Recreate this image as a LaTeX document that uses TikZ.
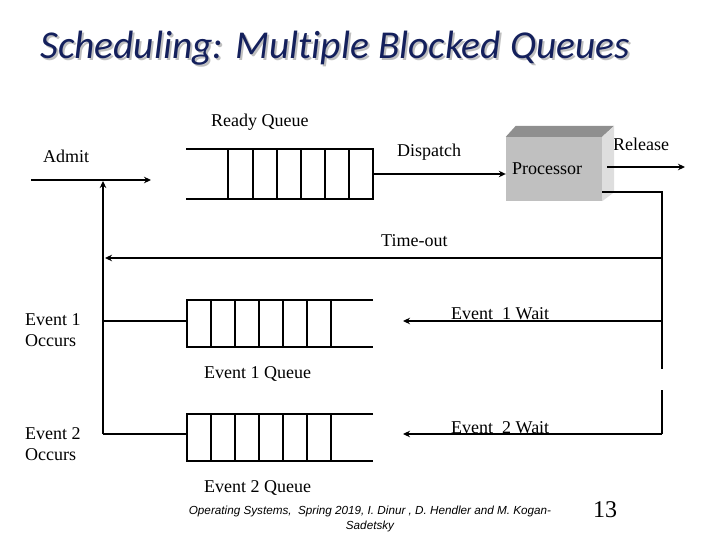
\documentclass[tikz,border=0pt]{standalone}
\usepackage{fontspec}
\setmainfont{Liberation Serif}
\newfontfamily\titlefont[Ligatures={NoCommon}]{Carlito}
\newfontfamily\footfont{Liberation Sans}
\usetikzlibrary{arrows.meta,calc}
\definecolor{navy}{RGB}{20,32,92}
\definecolor{frontgray}{RGB}{192,192,192}
\definecolor{topgray}{RGB}{143,143,143}
\definecolor{sidegray}{RGB}{222,222,222}
\begin{document}
\begin{tikzpicture}[x=1pt,y=-1pt,
  ln/.style={line width=2.2pt},
  arr/.style={line width=2.2pt,-{Stealth[length=7pt,width=6.5pt]}},
  lbl/.style={anchor=base west,inner sep=0pt,font=\fontsize{18}{21}\selectfont},
  ttl/.style={anchor=base west,inner sep=0pt,font=\titlefont\itshape\fontsize{39.5}{44}\selectfont}]
\useasboundingbox (0,0) rectangle (720,540);
% title
\node[ttl,text=black!25] (titleshadow) at (42,61) {Scheduling: Multiple Blocked Queues};
\node[ttl,text=navy] (title) at (40,59) {Scheduling: Multiple Blocked Queues};
% labels
\node[lbl] (readyq) at (211,127) {Ready Queue};
\node[lbl] (admit) at (43,163) {Admit};
\node[lbl] (dispatch) at (397,157) {Dispatch};
\node[lbl] (release) at (613,151) {Release};
\node[lbl] (timeout) at (381,247) {Time-out};
\node[lbl] (e1wait) at (451,319) {Event\ \ 1 Wait};
\node[lbl] (e2wait) at (451,433) {Event\ \ 2 Wait};
\node[lbl,align=left] (e1occ) at (25,346) {Event 1\\[0pt]Occurs};
\node[lbl,align=left] (e2occ) at (25,460) {Event 2\\[0pt]Occurs};
\node[lbl] (e1q) at (204,378) {Event 1 Queue};
\node[lbl] (e2q) at (204,492) {Event 2 Queue};
% processor
\node[fill=frontgray,minimum width=96pt,minimum height=64pt,inner sep=0pt] (proc) at (554,169) {};
\fill[topgray] (proc.north west) -- ($(proc.north west)+(10,-11)$) -- ($(proc.north east)+(12,-11)$) -- (proc.north east) -- cycle;
\fill[sidegray] (proc.north east) -- ($(proc.north east)+(12,-11)$) -- ($(proc.south east)+(12,-9)$) -- (proc.south east) -- cycle;
\node[lbl] (proclbl) at (512,175) {Processor};
% ready queue
\draw[ln] (186,149) -- (373,149) -- (373,199) -- (186,199);
\foreach \x in {228,253,277,301,325,349} \draw[ln] (\x,149) -- (\x,199);
% event queues
\foreach \y/\h in {300/347,414/461}{
  \draw[ln] (373,\y) -- (187,\y) -- (187,\h) -- (373,\h);
  \foreach \x in {211,235,259,283,307,331} \draw[ln] (\x,\y) -- (\x,\h);
}
% coordinates
\coordinate (admitstart) at (31,180);
\coordinate (admitend) at (151,180);
\coordinate (leftbot) at (103,434);
\coordinate (lefttop) at (103,181);
\coordinate (rqout) at (373,174);
\coordinate (relstart) at (607,167);
\coordinate (relend) at (685,167);
\coordinate (procout) at (602,192);
\coordinate (rc1) at (662,192);
\coordinate (rcgap1) at (662,369);
\coordinate (rcgap2) at (662,390);
\coordinate (rc2) at (662,434);
\coordinate (tostart) at (662,258);
\coordinate (toend) at (105,258);
\coordinate (e1start) at (662,321);
\coordinate (e1end) at (403,321);
\coordinate (e2end) at (403,434);
\coordinate (e1left) at (103,321);
\coordinate (e1qin) at (187,321);
\coordinate (e2qin) at (187,434);
% connectors
\draw[arr] (admitstart) -- (admitend);
\draw[arr] (leftbot) -- (lefttop);
\draw[ln] (e1left) -- (e1qin);
\draw[ln] (leftbot) -- (e2qin);
\draw[arr] (rqout) -- (rqout -| proc.west);
\draw[arr] (relstart) -- (relend);
\draw[ln] (procout) -- (rc1) -- (rcgap1);
\draw[ln] (rcgap2) -- (rc2);
\draw[arr] (tostart) -- (toend);
\draw[arr] (e1start) -- (e1end);
\draw[arr] (rc2) -- (e2end);
% footer
\node[font=\footfont\itshape\fontsize{11.7}{14.5}\selectfont,align=center,inner sep=0pt] (footer) at (370,519) {Operating Systems,\ \ Spring 2019, I. Dinur , D. Hendler and M. Kogan-\\Sadetsky};
\node[font=\fontsize{24}{28}\selectfont,inner sep=0pt] (pagenum) at (605,510) {13};
\end{tikzpicture}
\end{document}
